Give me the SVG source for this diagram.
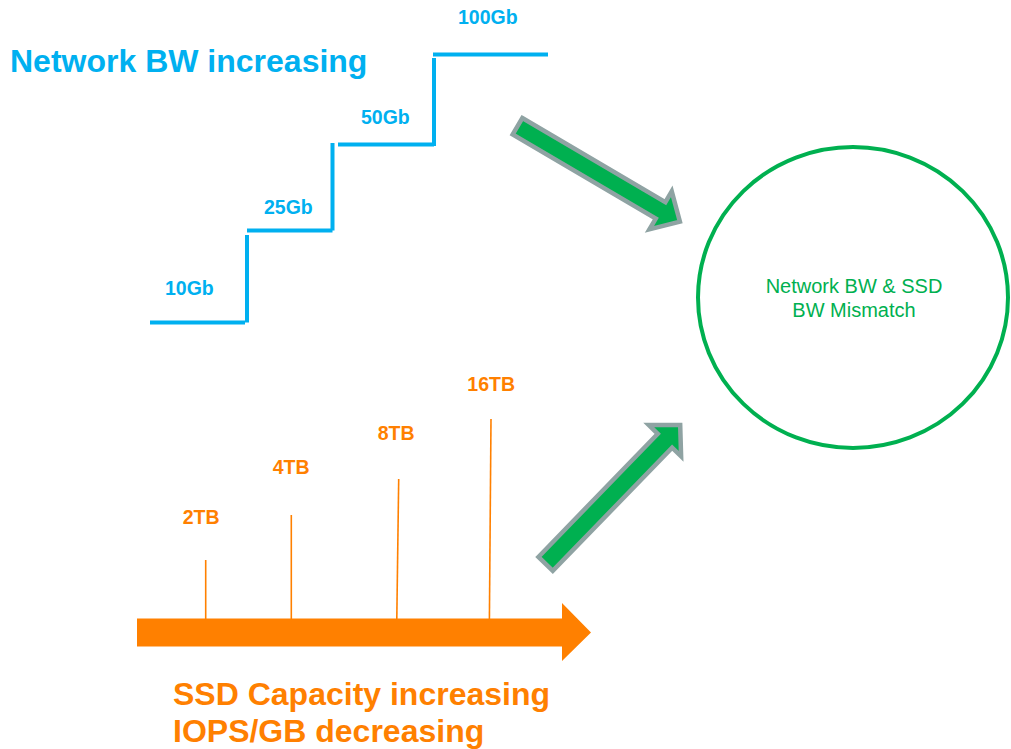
<svg xmlns="http://www.w3.org/2000/svg" width="1011" height="749" viewBox="0 0 1011 749">
  <style>
    text { font-family: "Liberation Sans", Arial, sans-serif; }
    .blue { fill: #00b0f0; font-weight: bold; }
    .orange { fill: #ff8000; font-weight: bold; }
    .step { fill: none; stroke: #00b0f0; stroke-width: 4; }
    .tick { stroke: #ff8000; stroke-width: 1.6; }
    .fat { fill: #00b050; stroke: #8fa3a3; stroke-width: 4.5; stroke-linejoin: miter; }
    .lbl { font-size: 19.5px; }
    .big { font-size: 32px; }
    .note { fill: #00b050; font-size: 20px; text-anchor: middle; }
  </style>
  <rect width="1011" height="749" fill="#ffffff"/>

  <!-- network bandwidth staircase -->
  <g id="network-bw">
    <text class="blue big" x="10" y="71.5">Network BW increasing</text>
    <path class="step" d="M150 322.5 H245 M247 235 V322.5 M247 230.5 H332.5 M332.5 143 V230.5 M338 144.5 H434 M434 58 V146 M433 54.5 H548"/>
    <text class="blue lbl" x="165" y="295">10Gb</text>
    <text class="blue lbl" x="264" y="213.5">25Gb</text>
    <text class="blue lbl" x="361" y="124">50Gb</text>
    <text class="blue lbl" x="458" y="24">100Gb</text>
  </g>

  <!-- SSD capacity timeline -->
  <g id="ssd-capacity">
    <polygon fill="#ff8000" points="137,618.5 562,618.5 562,603 591,632.5 562,661 562,646.5 137,646.5"/>
    <line class="tick" x1="205.7" y1="560" x2="205.7" y2="619"/>
    <line class="tick" x1="291.3" y1="515" x2="291.3" y2="619"/>
    <line class="tick" x1="398.7" y1="479" x2="396.8" y2="619"/>
    <line class="tick" x1="491" y1="419" x2="489.4" y2="619"/>
    <text class="orange lbl" x="182.7" y="524">2TB</text>
    <text class="orange lbl" x="272.7" y="474">4TB</text>
    <text class="orange lbl" x="377.7" y="440">8TB</text>
    <text class="orange lbl" x="467.3" y="391">16TB</text>
    <text class="orange big" x="173" y="705">SSD Capacity increasing</text>
    <text class="orange big" x="173" y="742">IOPS/GB decreasing</text>
  </g>

  <!-- outcome -->
  <g id="mismatch">
    <ellipse cx="853" cy="297.5" rx="155" ry="150.5" fill="none" stroke="#00b050" stroke-width="4"/>
    <text class="note" x="854" y="293">Network BW &amp; SSD</text>
    <text class="note" x="854" y="317">BW Mismatch</text>
  </g>

  <!-- connectors -->
  <g id="connectors">
    <polygon class="fat" transform="translate(517.5 126.2) rotate(30.46)" points="0,-9.5 166,-9.5 166,-22 188.4,0 166,22 166,9.5 0,9.5"/>
    <polygon class="fat" transform="translate(545.6 563.9) rotate(-45.9)" points="0,-10 171.5,-10 171.5,-22.5 193.4,0 171.5,22.5 171.5,10 0,10"/>
  </g>
</svg>
